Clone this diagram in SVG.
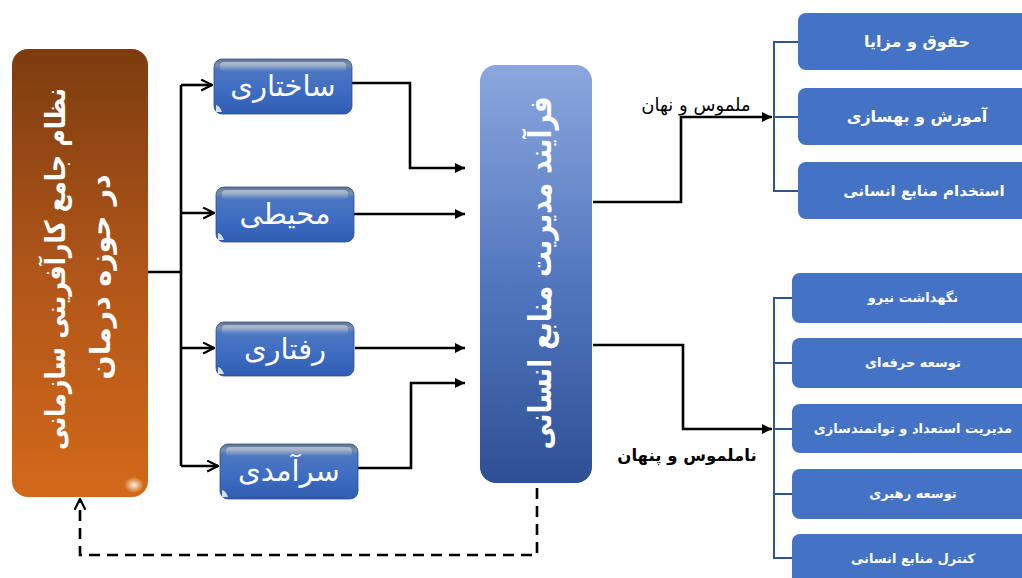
<svg xmlns="http://www.w3.org/2000/svg" width="1022" height="578" viewBox="0 0 1022 578">
<defs>
<linearGradient id="gOrange" x1="0" y1="0" x2="0" y2="1">
<stop offset="0" stop-color="#7d3c0f"/>
<stop offset="0.5" stop-color="#b0561a"/>
<stop offset="1" stop-color="#d3681a"/>
</linearGradient>
<linearGradient id="gHR" x1="0" y1="0" x2="0" y2="1">
<stop offset="0" stop-color="#8ba7dd"/>
<stop offset="0.5" stop-color="#5478c0"/>
<stop offset="1" stop-color="#2d4f95"/>
</linearGradient>
<linearGradient id="gBtn" x1="0" y1="0" x2="0" y2="1">
<stop offset="0" stop-color="#5d7290"/>
<stop offset="0.1" stop-color="#7a8fae"/>
<stop offset="0.2" stop-color="#4c76c0"/>
<stop offset="0.6" stop-color="#3d6cc2"/>
<stop offset="1" stop-color="#2f5cb0"/>
</linearGradient>
<linearGradient id="gShine" x1="0" y1="0" x2="0" y2="1">
<stop offset="0" stop-color="#ffffff" stop-opacity="0.45"/>
<stop offset="1" stop-color="#ffffff" stop-opacity="0"/>
</linearGradient>
<radialGradient id="gSpot" cx="0.5" cy="0.5" r="0.5">
<stop offset="0" stop-color="#fff4e0" stop-opacity="0.95"/>
<stop offset="1" stop-color="#fff4e0" stop-opacity="0"/>
</radialGradient>
<marker id="arrF" viewBox="0 0 10 10" refX="10" refY="5" markerWidth="4" markerHeight="4" orient="auto" markerUnits="strokeWidth">
<path d="M0,0 L10,5 L0,10 Z" fill="#000"/>
</marker>
<marker id="arrV" viewBox="0 0 12 12" refX="11" refY="6" markerWidth="5" markerHeight="5" orient="auto" markerUnits="strokeWidth">
<path d="M1,1 L11,6 L1,11" fill="none" stroke="#000" stroke-width="2"/>
</marker>
</defs>
<style>
.conn{fill:none;stroke:#000;stroke-width:2.6}
.dash{fill:none;stroke:#000;stroke-width:2.6;stroke-dasharray:11 7}
.brk{fill:none;stroke:#2f5597;stroke-width:2}
.box{fill:#4472c4}
.btn{fill:url(#gBtn);stroke:#2d4f8a;stroke-width:0.8}
.shine{fill:url(#gShine)}
.bt{font-family:"DejaVu Sans",sans-serif;font-size:29px;fill:#fff;text-anchor:middle}
.wt{font-family:"DejaVu Sans",sans-serif;font-weight:bold;fill:#fff;text-anchor:middle}
.lbl{font-family:"DejaVu Sans",sans-serif;fill:#000;text-anchor:middle}
</style>
<rect width="1022" height="578" fill="#fff"/>

<g id="connectors">
<path class="conn" d="M148,272 H181"/>
<path class="conn" d="M181,85 V466"/>
<path class="conn" d="M181,85 H212" marker-end="url(#arrV)"/>
<path class="conn" d="M181,213 H214" marker-end="url(#arrV)"/>
<path class="conn" d="M181,348 H214" marker-end="url(#arrV)"/>
<path class="conn" d="M181,466 H218" marker-end="url(#arrV)"/>
<path class="conn" d="M352,83 H410 V168 H465" marker-end="url(#arrF)"/>
<path class="conn" d="M354,214 H465" marker-end="url(#arrF)"/>
<path class="conn" d="M355,348 H465" marker-end="url(#arrF)"/>
<path class="conn" d="M358,468 H411 V383 H465" marker-end="url(#arrF)"/>
<path class="conn" d="M593,202 H681 V117 H772" marker-end="url(#arrF)"/>
<path class="conn" d="M593,345 H683 V429 H772" marker-end="url(#arrF)"/>
<path class="dash" d="M537,488 V555 H80 V499" marker-end="url(#arrV)"/>
<path class="brk" d="M798,42 H774 V191 H798 M774,117 H798"/>
<path class="brk" d="M792,298 H774 V558 H792 M774,363 H792 M774,429 H792 M774,494 H792"/>
<text class="lbl" x="696" y="111" font-size="18">ملموس و نهان</text>
<text class="lbl" x="687" y="461" font-size="16.5" font-weight="bold">ناملموس و پنهان</text>
</g>

<g id="node-system">
<rect x="12" y="49" width="136" height="448" rx="16" fill="url(#gOrange)"/>
<ellipse cx="134" cy="485" rx="10" ry="8" fill="url(#gSpot)"/>
<text class="wt" font-size="28" textLength="362" lengthAdjust="spacingAndGlyphs" transform="translate(55,269) rotate(-90)" y="10">نظام جامع کارآفرینی سازمانی</text>
<text class="wt" font-size="28" textLength="205" lengthAdjust="spacingAndGlyphs" transform="translate(100,277) rotate(-90)" y="10">در حوزه درمان</text>
</g>

<g id="node-structural">
<rect class="btn" x="214" y="59" width="138" height="55" rx="8"/>
<rect class="shine" x="220" y="62" width="126" height="10" rx="4"/>
<path d="M216,112 L216,105 Q220,106 222,112 Z" fill="#fff" opacity="0.8"/>
<text class="bt" x="283" y="96">ساختاری</text>
</g>
<g id="node-environmental">
<rect class="btn" x="216" y="187" width="138" height="55" rx="8"/>
<rect class="shine" x="222" y="190" width="126" height="10" rx="4"/>
<path d="M218,240 L218,233 Q222,234 224,240 Z" fill="#fff" opacity="0.8"/>
<text class="bt" x="285" y="224">محیطی</text>
</g>
<g id="node-behavioral">
<rect class="btn" x="216" y="322" width="138" height="54" rx="8"/>
<rect class="shine" x="222" y="325" width="126" height="10" rx="4"/>
<path d="M218,374 L218,367 Q222,368 224,374 Z" fill="#fff" opacity="0.8"/>
<text class="bt" x="285" y="359">رفتاری</text>
</g>
<g id="node-excellence">
<rect class="btn" x="220" y="444" width="138" height="55" rx="8"/>
<rect class="shine" x="226" y="447" width="126" height="10" rx="4"/>
<path d="M222,497 L222,490 Q226,491 228,497 Z" fill="#fff" opacity="0.8"/>
<text class="bt" x="289" y="481">سرآمدی</text>
</g>

<g id="node-hr-process">
<rect x="480" y="65" width="112" height="418" rx="16" fill="url(#gHR)"/>
<text class="wt" font-size="31" textLength="353" lengthAdjust="spacingAndGlyphs" transform="translate(540,273) rotate(-90)" y="11">فرآیند مدیریت منابع انسانی</text>
</g>

<g id="node-t1"><rect class="box" x="798" y="13" width="240" height="57" rx="8"/><text class="wt" font-size="16" x="917" y="47">حقوق و مزایا</text></g>
<g id="node-t2"><rect class="box" x="798" y="88" width="240" height="57" rx="8"/><text class="wt" font-size="16" x="917" y="122">آموزش و بهسازی</text></g>
<g id="node-t3"><rect class="box" x="798" y="162" width="240" height="57" rx="8"/><text class="wt" font-size="15" x="924" y="196">استخدام منابع انسانی</text></g>

<g id="node-b1"><rect class="box" x="792" y="273" width="250" height="50" rx="8"/><text class="wt" font-size="13" x="913" y="302">نگهداشت نیرو</text></g>
<g id="node-b2"><rect class="box" x="792" y="338" width="250" height="50" rx="8"/><text class="wt" font-size="13" x="913" y="367">توسعه حرفه‌ای</text></g>
<g id="node-b3"><rect class="box" x="792" y="404" width="250" height="49" rx="8"/><text class="wt" font-size="13" x="913" y="433">مدیریت استعداد و توانمندسازی</text></g>
<g id="node-b4"><rect class="box" x="792" y="469" width="250" height="50" rx="8"/><text class="wt" font-size="13" x="913" y="498">توسعه رهبری</text></g>
<g id="node-b5"><rect class="box" x="792" y="534" width="250" height="60" rx="8"/><text class="wt" font-size="13" x="913" y="563">کنترل منابع انسانی</text></g>
</svg>
